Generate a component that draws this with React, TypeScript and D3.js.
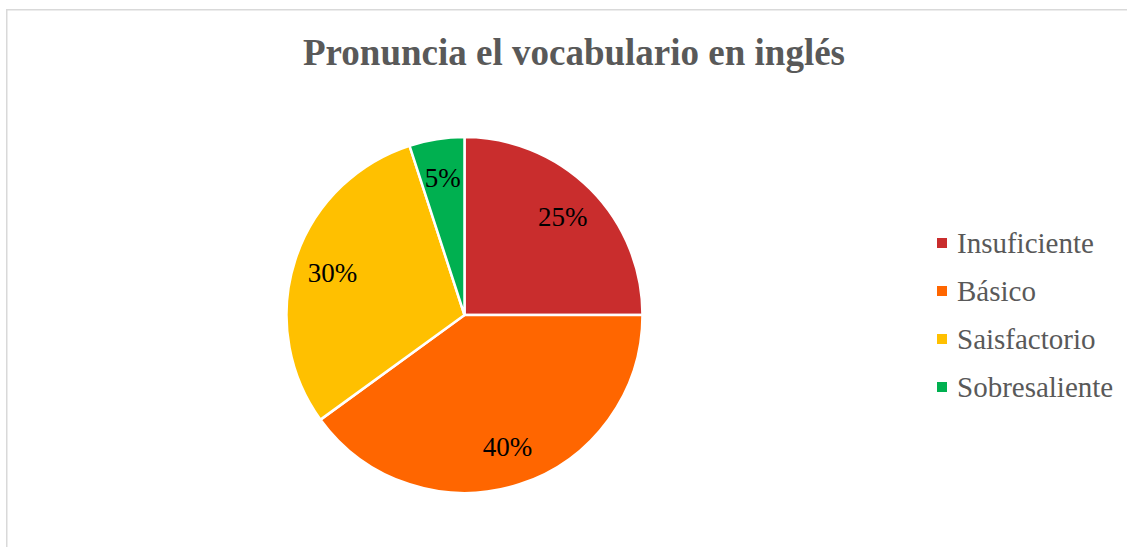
import * as d3 from "d3";
import { useEffect, useRef } from "react";

// datos del gráfico
const categories = ["Insuficiente", "Básico", "Saisfactorio", "Sobresaliente"];
const values = [25, 40, 30, 5];
const colors = ["#C92D2D", "#FF6600", "#FFC000", "#00B050"];
const title = "Pronuncia el vocabulario en inglés";

const W = 1127;
const H = 547;

const App = () => {
  const chartRef = useRef<SVGSVGElement>(null);

  useEffect(() => {
    const svg = d3.select(chartRef.current);
    svg.selectAll("*").remove();

    const font = "'Liberation Serif', 'Times New Roman', serif";

    // marco del área del gráfico
    svg.append("rect")
      .attr("x", 6.75)
      .attr("y", 9.75)
      .attr("width", 1121)
      .attr("height", 600)
      .attr("fill", "#fff")
      .attr("stroke", "#d9d9d9")
      .attr("stroke-width", 1.5);

    svg.append("text")
      .attr("x", 574)
      .attr("y", 65)
      .attr("text-anchor", "middle")
      .style("font-family", font)
      .style("font-weight", "bold")
      .style("font-size", "37px")
      .style("fill", "#595959")
      .text(title);

    const cx = 464.5;
    const cy = 315;
    const radius = 178;

    const data = categories.map((c, i) => ({ label: c, value: values[i] }));
    const total = d3.sum(values);

    const pie = d3.pie<{ label: string; value: number }>()
      .sort(null)
      .value(d => d.value);
    const arcs = pie(data);

    const arc = d3.arc<d3.PieArcDatum<{ label: string; value: number }>>()
      .innerRadius(0)
      .outerRadius(radius);
    const labelArc = d3.arc<d3.PieArcDatum<{ label: string; value: number }>>()
      .innerRadius(radius * 0.78)
      .outerRadius(radius * 0.78);

    const g = svg.append("g").attr("transform", `translate(${cx}, ${cy})`);

    g.selectAll(".slice")
      .data(arcs)
      .enter()
      .append("path")
      .attr("d", arc)
      .attr("fill", (d, i) => colors[i])
      .attr("stroke", "#fff")
      .attr("stroke-width", 2.5)
      .attr("stroke-linejoin", "round");

    g.selectAll(".lbl")
      .data(arcs)
      .enter()
      .append("text")
      .attr("x", d => labelArc.centroid(d)[0])
      .attr("y", d => labelArc.centroid(d)[1])
      .attr("dy", "0.35em")
      .attr("text-anchor", "middle")
      .style("font-family", font)
      .style("font-size", "27px")
      .style("fill", "#000")
      .text(d => `${Math.round((d.data.value / total) * 100)}%`);

    // leyenda
    const legend = svg.append("g").attr("transform", "translate(937, 243)");
    const row = legend.selectAll(".item")
      .data(categories)
      .enter()
      .append("g")
      .attr("transform", (d, i) => `translate(0, ${i * 48})`);

    row.append("rect")
      .attr("x", 0)
      .attr("y", -5)
      .attr("width", 10)
      .attr("height", 10)
      .attr("fill", (d, i) => colors[i]);

    row.append("text")
      .attr("x", 20)
      .attr("y", 10)
      .style("font-family", font)
      .style("font-size", "29px")
      .style("fill", "#595959")
      .text(d => d);
  }, []);

  return (
    <svg
      ref={chartRef}
      width={W}
      height={H}
      style={{ position: "absolute", left: 0, top: 0, background: "#fff" }}
    ></svg>
  );
};

export default App;
